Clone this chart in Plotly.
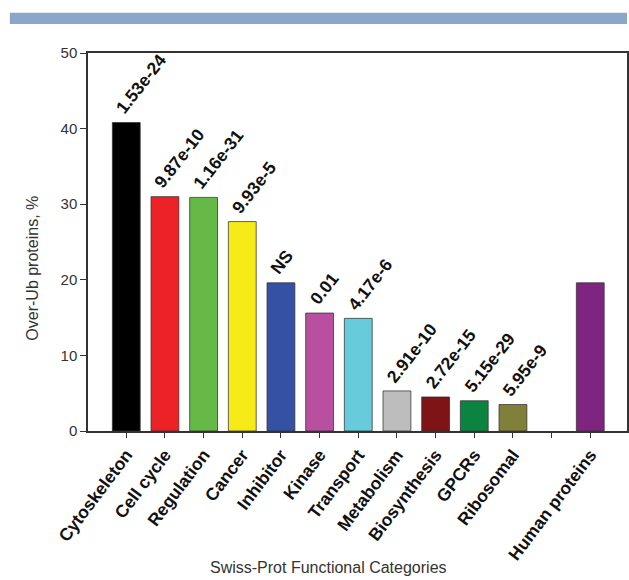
import plotly.graph_objects as go

categories = ["Cytoskeleton", "Cell cycle", "Regulation", "Cancer", "Inhibitor", "Kinase",
              "Transport", "Metabolism", "Biosynthesis", "GPCRs", "Ribosomal", "", "Human proteins"]
values = [40.8, 31.0, 30.9, 27.7, 19.6, 15.6, 14.9, 5.3, 4.5, 4.0, 3.5, None, 19.6]
pvalues = ["1.53e-24", "9.87e-10", "1.16e-31", "9.93e-5", "NS", "0.01", "4.17e-6",
           "2.91e-10", "2.72e-15", "5.15e-29", "5.95e-9", "", ""]
colors = ["#000000", "#ec2227", "#66b946", "#f6eb16", "#3451a3", "#b84f9f", "#68cbdb",
          "#bdbdbd", "#7f1416", "#0b8441", "#80803a", "#ffffff", "#7e267f"]
y_ticks = [0, 10, 20, 30, 40, 50]

positions = list(range(len(categories)))
bx = [p for p, v in zip(positions, values) if v is not None]
by = [v for v in values if v is not None]
bc = [c for c, v in zip(colors, values) if v is not None]

fig = go.Figure()
fig.add_trace(go.Bar(
    x=bx, y=by, marker=dict(color=bc, line=dict(color="rgba(50,50,50,0.75)", width=1)),
    width=0.72, showlegend=False, hoverinfo="skip"))

FONT = "Liberation Sans, Arial, sans-serif"
for p, v, t in zip(positions, values, pvalues):
    if v is None or not t:
        continue
    fig.add_annotation(x=p, y=v, text="<b>%s</b>" % t, textangle=-52, showarrow=False,
                       xanchor="left", yanchor="bottom", xshift=-17, yshift=2,
                       font=dict(family=FONT, size=17.5, color="#111111"))

fig.update_layout(
    width=629, height=580,
    margin=dict(l=88, r=0, t=53, b=149),
    paper_bgcolor="white", plot_bgcolor="white",
    bargap=0.28,
    font=dict(family=FONT, color="#222222"),
    xaxis=dict(range=[-0.99, 12.95], tickmode="array", tickvals=positions, ticktext=categories,
               tickangle=-53, tickfont=dict(family=FONT, size=17.5, color="#111111", weight="bold"),
               ticks="outside", ticklen=5, tickcolor="#333333", tickwidth=1,
               showline=True, linecolor="#333333", linewidth=1.5, mirror=True,
               showgrid=False, zeroline=False),
    yaxis=dict(range=[0, 50], tickvals=y_ticks, tickfont=dict(family=FONT, size=15, color="#333333"),
               ticks="outside", ticklen=6, tickcolor="#333333", tickwidth=1,
               showline=True, linecolor="#333333", linewidth=1.5, mirror=True,
               showgrid=False, zeroline=False),
)

fig.add_annotation(xref="paper", yref="paper", x=-0.1035, y=0.43, text="Over-Ub proteins, %",
                   textangle=-90, showarrow=False, xanchor="center", yanchor="middle",
                   font=dict(family=FONT, size=16, color="#333333"))
fig.add_annotation(xref="paper", yref="paper", x=0.4455, y=-0.3606,
                   text="Swiss-Prot Functional Categories", showarrow=False,
                   xanchor="center", yanchor="middle",
                   font=dict(family=FONT, size=16, color="#333333"))
fig.add_shape(type="rect", xref="paper", yref="paper", x0=-0.145, x1=1.0, y0=1.0766, y1=1.1065,
              fillcolor="#8ba6cb", line=dict(width=0), layer="above")

fig.write_html("out.html")
